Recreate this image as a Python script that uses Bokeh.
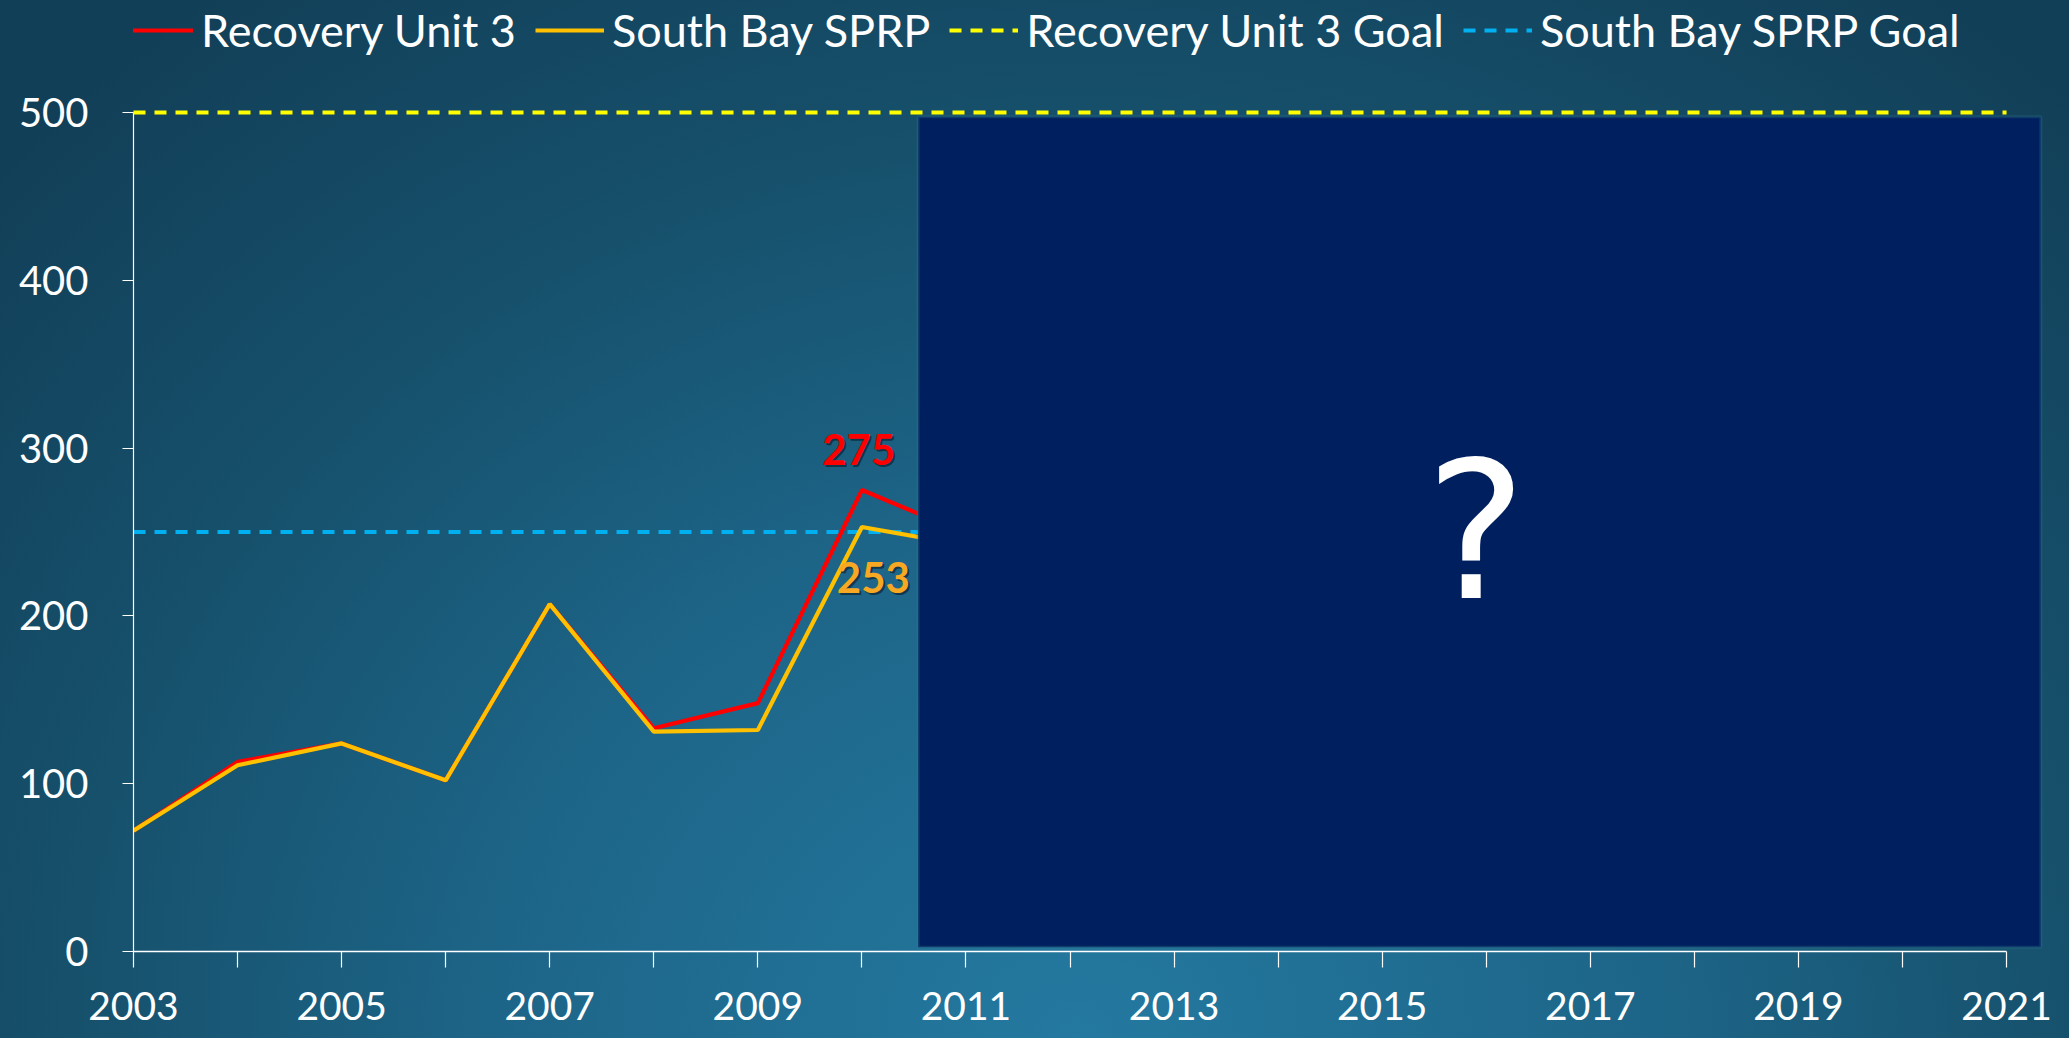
from bokeh.plotting import figure
from bokeh.models import (Range1d, FixedTicker, Legend, LegendItem, Label,
                          BoxAnnotation, GlobalInlineStyleSheet)
from bokeh.embed import file_html
from bokeh.resources import INLINE

# ---------------- data ----------------
years = [2003, 2004, 2005, 2006, 2007, 2008, 2009, 2010, 2011]
recovery_unit_3 = [72, 113, 124, 102, 207, 133, 148, 275, 249]
south_bay_sprp = [72, 111, 124, 102, 207, 131, 132, 253, 242]
goal_years = [2003, 2021]
recovery_unit_3_goal = [500, 500]
south_bay_sprp_goal = [250, 250]
x_ticks = list(range(2003, 2022))
y_ticks = [0, 100, 200, 300, 400, 500]
series_names = ["Recovery Unit 3", "South Bay SPRP",
                "Recovery Unit 3 Goal", "South Bay SPRP Goal"]
label_index = 7  # 2010 values are annotated

FONT = "Lato"
WHITE = "#ffffff"

FRAME_H = 951
PX_PER_UNIT = 1.678

p = figure(frame_width=1915, frame_height=FRAME_H,
           x_range=Range1d(2003, 2021.403),
           y_range=Range1d(0, FRAME_H / PX_PER_UNIT),
           output_backend="svg", toolbar_location=None,
           min_border_left=133, min_border_right=21,
           min_border_top=0, min_border_bottom=87)

p.stylesheets = [GlobalInlineStyleSheet(css=(
    "html { min-height: 100%; overflow: hidden; background: radial-gradient(ellipse 70% 125% at 52% 100%, "
    "#2479a0 0%, #1d6588 40%, #16506b 70%, #123f58 100%); }"
    "body { background: transparent; overflow: hidden; }"))]

p.background_fill_alpha = 0
p.border_fill_alpha = 0
p.outline_line_color = None
p.xgrid.visible = False
p.ygrid.visible = False

# axes
xa = p.xaxis[0]
xa.ticker = FixedTicker(ticks=x_ticks)
xa.major_label_overrides = {y: ("" if (y - 2003) % 2 else str(y)) for y in x_ticks}
xa.bounds = (2003, 2021)
xa.axis_line_color = WHITE
xa.axis_line_width = 1.5
xa.major_tick_line_color = WHITE
xa.major_tick_line_width = 1.2
xa.major_tick_in = 0
xa.major_tick_out = 16
xa.minor_tick_line_color = None
xa.major_label_standoff = 24
xa.major_label_text_font = FONT
xa.major_label_text_font_size = "39px"
xa.major_label_text_color = WHITE

ya = p.yaxis[0]
ya.ticker = FixedTicker(ticks=y_ticks)
ya.bounds = (0, 500)
ya.axis_line_color = WHITE
ya.axis_line_width = 1.2
ya.major_tick_line_color = WHITE
ya.major_tick_line_width = 1.2
ya.major_tick_in = 0
ya.major_tick_out = 11
ya.minor_tick_line_color = None
ya.major_label_standoff = 34
ya.major_label_text_font = FONT
ya.major_label_text_font_size = "40px"
ya.major_label_text_color = WHITE

# series
r_sb_goal = p.line(goal_years, south_bay_sprp_goal, line_color="#00b0f0",
                   line_width=4, line_dash="12 9")
r_ru3 = p.line(years, recovery_unit_3, line_color="#ff0000", line_width=4.2)
r_sb = p.line(years, south_bay_sprp, line_color="#ffc000", line_width=4.2)

# the hidden future box
box = BoxAnnotation(left=2010.54, right=2021.33, bottom=2.5, top=497.5,
                    fill_color="#001f5f", fill_alpha=1.0,
                    line_color="#2d7b8b", line_width=3, level="overlay")
p.add_layout(box)

r_ru3_goal = p.line(goal_years, recovery_unit_3_goal, line_color="#ffff00",
                    line_width=4, line_dash="12 9", level="overlay")

p.add_layout(Label(x=2015.9, y=250, text="?", text_color=WHITE,
                   text_font="DejaVu Sans", text_font_size="190px",
                   text_align="center", text_baseline="middle", level="overlay"))

# value labels with a soft shadow
for val, xx, yy, col in [(recovery_unit_3[label_index], 2009.97, 299, "#ff0000"),
                         (south_bay_sprp[label_index], 2010.11, 223, "#f7a823")]:
    p.add_layout(Label(x=xx, y=yy, text=str(val), text_color="#000000", text_alpha=0.45,
                       text_font=FONT, text_font_style="bold", text_font_size="42px",
                       text_align="center", text_baseline="middle",
                       x_offset=2, y_offset=-2))
    p.add_layout(Label(x=xx, y=yy, text=str(val), text_color=col,
                       text_font=FONT, text_font_style="bold", text_font_size="42px",
                       text_align="center", text_baseline="middle"))

legend = Legend(items=[
    LegendItem(label=series_names[0], renderers=[r_ru3]),
    LegendItem(label=series_names[1], renderers=[r_sb]),
    LegendItem(label=series_names[2], renderers=[r_ru3_goal]),
    LegendItem(label=series_names[3], renderers=[r_sb_goal]),
], orientation="horizontal", location=(-9, FRAME_H - 57))
legend.background_fill_alpha = 0
legend.border_line_color = None
legend.label_text_color = WHITE
legend.label_text_font = FONT
legend.label_text_font_size = "45px"
legend.glyph_width = 69
legend.glyph_height = 46
legend.label_height = 46
legend.label_standoff = 8
legend.spacing = 19
legend.padding = 0
legend.margin = 0
p.add_layout(legend, "center")

open("out.html", "w").write(file_html(p, INLINE))
